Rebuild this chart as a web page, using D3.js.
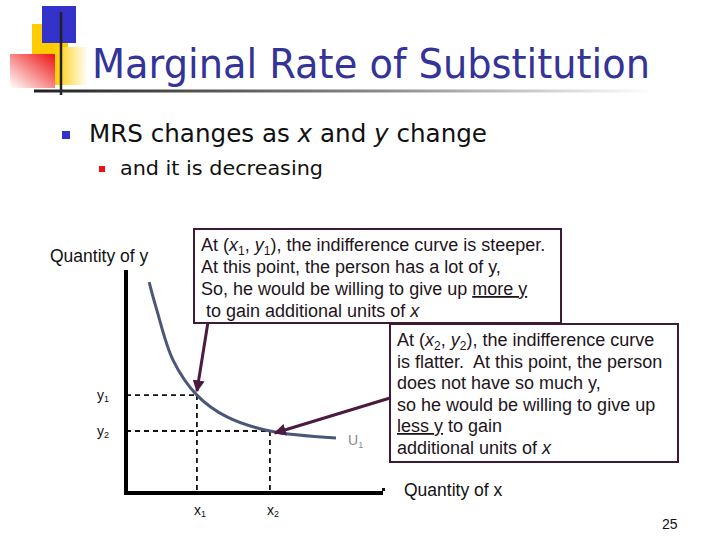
<!DOCTYPE html>
<html>
<head>
<meta charset="utf-8">
<script src="https://cdn.jsdelivr.net/npm/d3@7"></script>
<style>
  body { margin: 0; background: #fff; }
  svg { display: block; }
  text { white-space: pre; }
</style>
</head>
<body>
<div id="chart"></div>
<script>
const width = 720;
const height = 540;

// indifference curve U1 (x, y in axis units 0..10)
const curveX = [0.9, 1.2, 1.83, 2.76, 3.93, 5.6, 8.17];
const curveY = [9.46, 8.2, 5.96, 4.39, 3.41, 2.78, 2.47];

// the two marked bundles
const pointLabels = ["1", "2"];
const pointX = [2.76, 5.6];
const pointY = [4.39, 2.78];

const box1Lines = [
  [["At (", ""], ["x", "i"], ["1", "sub"], [", ", ""], ["y", "i"], ["1", "sub"], ["), the indifference curve is steeper.", ""]],
  [["At this point, the person has a lot of y,", ""]],
  [["So, he would be willing to give up ", ""], ["more y", "u"]],
  [[" to gain additional units of ", ""], ["x", "i"]]
];
const box2Lines = [
  [["At (", ""], ["x", "i"], ["2", "sub"], [", ", ""], ["y", "i"], ["2", "sub"], ["), the indifference curve", ""]],
  [["is flatter.  At this point, the person", ""]],
  [["does not have so much y,", ""]],
  [["so he would be willing to give up", ""]],
  [["less y", "u"], [" to gain", ""]],
  [["additional units of ", ""], ["x", "i"]]
];

const svg = d3.select("#chart").append("svg")
  .attr("width", width)
  .attr("height", height);

const defs = svg.append("defs");

// gradients for the template decoration
const gRule = defs.append("linearGradient").attr("id", "rule");
gRule.append("stop").attr("offset", "0%").attr("stop-color", "#222");
gRule.append("stop").attr("offset", "55%").attr("stop-color", "#888");
gRule.append("stop").attr("offset", "100%").attr("stop-color", "#fff");

const gRed = defs.append("linearGradient").attr("id", "red")
  .attr("x1", "1").attr("y1", "0").attr("x2", "0").attr("y2", "1");
gRed.append("stop").attr("offset", "0%").attr("stop-color", "#ee1111");
gRed.append("stop").attr("offset", "100%").attr("stop-color", "#fff");

const gYel = defs.append("linearGradient").attr("id", "yel");
gYel.append("stop").attr("offset", "0%").attr("stop-color", "#ffcc00");
gYel.append("stop").attr("offset", "100%").attr("stop-color", "#fff");

defs.append("marker")
  .attr("id", "head")
  .attr("viewBox", "0 0 10 10")
  .attr("refX", 9).attr("refY", 5)
  .attr("markerWidth", 4).attr("markerHeight", 4)
  .attr("orient", "auto")
  .append("path")
  .attr("d", "M0,0 L10,5 L0,10 z")
  .attr("fill", "#4a1a40");

// logo squares
const deco = svg.append("g");
deco.append("rect").attr("x", 32).attr("y", 24).attr("width", 36).attr("height", 38).attr("fill", "#ffcc00");
deco.append("rect").attr("x", 55).attr("y", 47).attr("width", 33).attr("height", 38).attr("fill", "url(#yel)");
deco.append("rect").attr("x", 42).attr("y", 6).attr("width", 34).attr("height", 37).attr("fill", "#3333cc");
deco.append("rect").attr("x", 10).attr("y", 54).attr("width", 45).attr("height", 34).attr("fill", "url(#red)");
deco.append("line").attr("x1", 61).attr("x2", 61).attr("y1", 12).attr("y2", 95)
  .attr("stroke", "#222").attr("stroke-width", 2.5);
deco.append("rect").attr("x", 34).attr("y", 89.5).attr("width", 620).attr("height", 3).attr("fill", "url(#rule)");

svg.append("text")
  .attr("x", 92).attr("y", 78)
  .attr("font-family", "DejaVu Sans")
  .attr("font-size", 40)
  .attr("textLength", 558).attr("lengthAdjust", "spacingAndGlyphs")
  .attr("fill", "#333399")
  .text("Marginal Rate of Substitution");

// bullets
svg.append("rect").attr("x", 62).attr("y", 131).attr("width", 8).attr("height", 8).attr("fill", "#3333cc");
const b1 = svg.append("text")
  .attr("x", 89).attr("y", 142)
  .attr("font-family", "DejaVu Sans").attr("font-size", 24)
  .attr("textLength", 398).attr("lengthAdjust", "spacingAndGlyphs")
  .attr("fill", "#111");
b1.append("tspan").text("MRS changes as ");
b1.append("tspan").attr("font-style", "italic").text("x");
b1.append("tspan").text(" and ");
b1.append("tspan").attr("font-style", "italic").text("y");
b1.append("tspan").text(" change");

svg.append("rect").attr("x", 99).attr("y", 166).attr("width", 6).attr("height", 6).attr("fill", "#ee1111");
svg.append("text")
  .attr("x", 120).attr("y", 175)
  .attr("font-family", "DejaVu Sans").attr("font-size", 20)
  .attr("textLength", 203).attr("lengthAdjust", "spacingAndGlyphs")
  .attr("fill", "#111")
  .text("and it is decreasing");

// chart
const x = d3.scaleLinear().domain([0, 10]).range([126, 383]);
const y = d3.scaleLinear().domain([0, 10]).range([493, 270]);

const g = svg.append("g");

// dashed guides
pointX.forEach((px, i) => {
  const py = pointY[i];
  g.append("line")
    .attr("x1", x(0)).attr("x2", x(px)).attr("y1", y(py)).attr("y2", y(py))
    .attr("stroke", "#111").attr("stroke-width", 1.8).attr("stroke-dasharray", "5,4");
  g.append("line")
    .attr("x1", x(px)).attr("x2", x(px)).attr("y1", y(py)).attr("y2", y(0))
    .attr("stroke", "#111").attr("stroke-width", 1.8).attr("stroke-dasharray", "5,4");
});

// axes
g.append("line").attr("x1", x(0)).attr("x2", x(0)).attr("y1", y(10)).attr("y2", y(0) + 2)
  .attr("stroke", "#000").attr("stroke-width", 4);
g.append("line").attr("x1", x(0) - 2).attr("x2", x(10)).attr("y1", y(0)).attr("y2", y(0))
  .attr("stroke", "#000").attr("stroke-width", 4);

const curve = d3.line()
  .x((d, i) => x(curveX[i]))
  .y((d, i) => y(curveY[i]))
  .curve(d3.curveCatmullRom);

g.append("path")
  .datum(curveX)
  .attr("d", curve)
  .attr("fill", "none")
  .attr("stroke", "#4a5878")
  .attr("stroke-width", 3);

// tick-like labels
pointX.forEach((px, i) => {
  const ty = g.append("text")
    .attr("x", 97).attr("y", y(pointY[i]) + 5)
    .attr("font-family", "Liberation Sans").attr("font-size", 14).attr("fill", "#111");
  ty.append("tspan").text("y");
  ty.append("tspan").attr("font-size", 9).attr("dy", 2).text(pointLabels[i]);

  const tx = g.append("text")
    .attr("x", x(px) - 3).attr("y", 515)
    .attr("font-family", "Liberation Sans").attr("font-size", 14).attr("fill", "#111");
  tx.append("tspan").text("x");
  tx.append("tspan").attr("font-size", 9).attr("dy", 2).text(pointLabels[i]);
});

const u = g.append("text")
  .attr("x", 348).attr("y", 445)
  .attr("font-family", "Liberation Sans").attr("font-size", 14).attr("fill", "#888");
u.append("tspan").text("U");
u.append("tspan").attr("font-size", 9).attr("dy", 3).text("1");

svg.append("text")
  .attr("x", 50).attr("y", 262)
  .attr("font-family", "Liberation Sans").attr("font-size", 17.5).attr("fill", "#111")
  .text("Quantity of y");

svg.append("rect").attr("x", 382).attr("y", 488).attr("width", 3).attr("height", 3).attr("fill", "#111");
svg.append("text")
  .attr("x", 404).attr("y", 496)
  .attr("font-family", "Liberation Sans").attr("font-size", 17.5).attr("fill", "#111")
  .text("Quantity of x");

svg.append("text")
  .attr("x", 662).attr("y", 529)
  .attr("font-family", "Liberation Sans").attr("font-size", 14).attr("fill", "#111")
  .text("25");

// callout boxes
function box(x0, y0, w, h, lines, lineH, firstY) {
  svg.append("rect")
    .attr("x", x0).attr("y", y0).attr("width", w).attr("height", h)
    .attr("fill", "#fff").attr("stroke", "#3d1a35").attr("stroke-width", 2);
  lines.forEach((parts, i) => {
    const t = svg.append("text")
      .attr("x", x0 + 7).attr("y", firstY + i * lineH)
      .attr("font-family", "Liberation Sans").attr("font-size", 18)
      .attr("fill", "#1e1420");
    let lowered = false;
    parts.forEach(([s, kind]) => {
      const sp = t.append("tspan").text(s);
      if (kind === "i") sp.attr("font-style", "italic");
      if (kind === "u") sp.attr("text-decoration", "underline");
      if (kind === "sub") {
        sp.attr("font-size", 12).attr("dy", 4);
        lowered = true;
      } else if (lowered) {
        sp.attr("dy", -4);
        lowered = false;
      }
    });
  });
}

box(194, 229, 367, 94, box1Lines, 22, 251);
box(390, 324, 288, 138, box2Lines, 21.5, 346);

// arrows
svg.append("line")
  .attr("x1", 208).attr("y1", 322).attr("x2", x(pointX[0])).attr("y2", y(pointY[0]) - 4)
  .attr("stroke", "#4a1a40").attr("stroke-width", 3).attr("marker-end", "url(#head)");
svg.append("line")
  .attr("x1", 390).attr("y1", 398).attr("x2", x(pointX[1]) + 5).attr("y2", y(pointY[1]) + 2)
  .attr("stroke", "#4a1a40").attr("stroke-width", 3).attr("marker-end", "url(#head)");
</script>
</body>
</html>
